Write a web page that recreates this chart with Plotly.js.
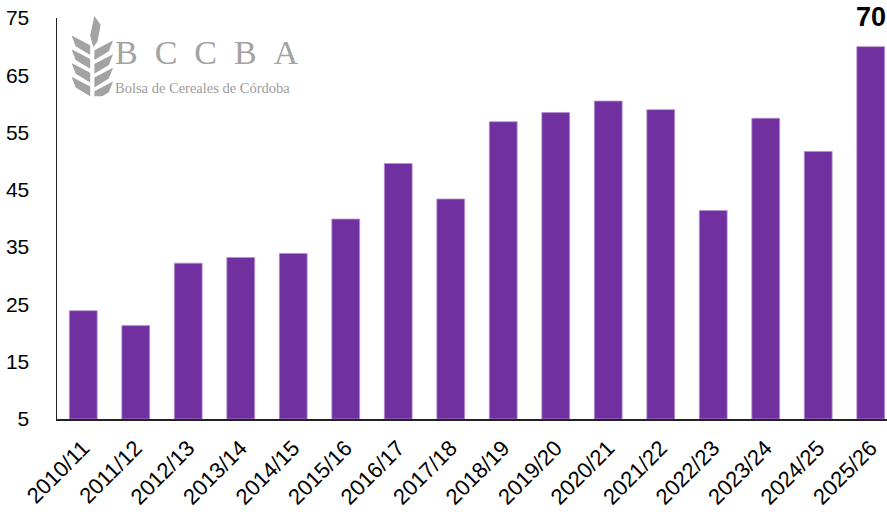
<!DOCTYPE html>
<html>
<head>
<meta charset="utf-8">
<script src="https://cdn.plot.ly/plotly-3.0.1.min.js"></script>
<style>
  html, body { margin: 0; padding: 0; background: #fff; }
  #chart { width: 887px; height: 514px; }
</style>
</head>
<body>
<div id="chart"></div>
<script>
// ---- Data ----
const campaigns = ["2010/11","2011/12","2012/13","2013/14","2014/15","2015/16","2016/17","2017/18",
                   "2018/19","2019/20","2020/21","2021/22","2022/23","2023/24","2024/25","2025/26"];
const production = [23.9, 21.3, 32.2, 33.2, 33.9, 39.9, 49.6, 43.4,
                    56.9, 58.5, 60.5, 59.0, 41.4, 57.5, 51.7, 70.0];
const yTicks = [5, 15, 25, 35, 45, 55, 65, 75];
const highlightIndex = 15;
const highlightLabel = "70";

// ---- Logo (decorative wheat icon) ----
function leafSvg() {
  const grey = "#a3a3a3";
  let p = "";
  p += `<polygon points="22,0 28,9 25,26 21,32 18,20" fill="${grey}"/>`;
  for (let i = 0; i < 4; i++) {
    const y = 20 + i * 14;
    p += `<polygon points="0,${y} 18,${y + 10} 18,${y + 20} 4,${y + 11}" fill="${grey}"/>`;
    const yr = y + 5;
    p += `<polygon points="40,${yr} 22,${yr + 10} 22,${yr + 20} 36,${yr + 11}" fill="${grey}"/>`;
  }
  return `<svg xmlns="http://www.w3.org/2000/svg" width="40" height="82" viewBox="0 0 40 82">${p}</svg>`;
}
const logoSrc = "data:image/svg+xml;charset=utf-8," + encodeURIComponent(leafSvg());

const trace = {
  type: "bar",
  x: campaigns.map((c, i) => i),
  y: production.map(v => v - 5),
  base: 5,
  width: 0.53,
  marker: { color: "#7030A0", line: { color: "#b590d0", width: 0.8 } },
  hoverinfo: "skip"
};

const layout = {
  width: 887,
  height: 514,
  margin: { l: 57, r: 0, t: 18, b: 95, pad: 0 },
  paper_bgcolor: "#ffffff",
  plot_bgcolor: "#ffffff",
  showlegend: false,
  font: { family: "Liberation Sans, Arial, sans-serif", color: "#000", size: 20 },
  xaxis: {
    range: [-0.5, 15.31],
    tickmode: "array",
    tickvals: campaigns.map((c, i) => i),
    ticktext: campaigns,
    tickangle: -45,
    tickfont: { size: 22, color: "#000" },
    ticklabelstandoff: 6,
    showline: true,
    linecolor: "#222",
    linewidth: 1.5,
    showgrid: false,
    zeroline: false,
    ticks: "",
    fixedrange: true
  },
  yaxis: {
    range: [5, 75],
    tickmode: "array",
    tickvals: yTicks,
    ticktext: yTicks.map(String),
    tickfont: { size: 21, color: "#000" },
    showline: true,
    linecolor: "#222",
    linewidth: 1.5,
    showgrid: false,
    zeroline: false,
    ticks: "",
    ticklabelstandoff: 22,
    fixedrange: true
  },
  images: [{
    source: logoSrc,
    xref: "paper", yref: "paper",
    x: 0.0175, y: 1.005,
    sizex: 0.05, sizey: 0.2,
    xanchor: "left", yanchor: "top",
    sizing: "stretch",
    layer: "above"
  }],
  annotations: [
    {
      x: highlightIndex, y: production[highlightIndex],
      xref: "x", yref: "y",
      text: "<b>" + highlightLabel + "</b>",
      showarrow: false,
      yanchor: "middle",
      yshift: 30,
      font: { size: 27, color: "#000", family: "Liberation Sans, Arial, sans-serif" }
    },
    {
      xref: "paper", yref: "paper",
      x: (113 - 57) / 830, y: (419 - 52) / 401,
      xanchor: "left", yanchor: "middle",
      text: "B\u2002C\u2002C\u2002B\u2002A",
      showarrow: false,
      font: { size: 34, color: "#a3a3a3", family: "Liberation Serif, DejaVu Serif, serif" }
    },
    {
      xref: "paper", yref: "paper",
      x: (113 - 57) / 830, y: (419 - 88) / 401,
      xanchor: "left", yanchor: "middle",
      text: "Bolsa de Cereales de Córdoba",
      showarrow: false,
      font: { size: 14.5, color: "#9c9c9c", family: "Liberation Serif, DejaVu Serif, serif" }
    }
  ]
};

Plotly.newPlot("chart", [trace], layout, { displayModeBar: false, staticPlot: true });
</script>
</body>
</html>
